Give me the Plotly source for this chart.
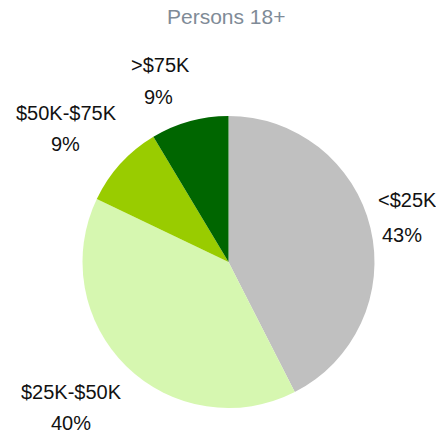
import plotly.graph_objects as go

categories = ["<$25K", "$25K-$50K", "$50K-$75K", ">$75K"]
values = [42.5, 39.6, 9.3, 8.6]
pct_labels = ["43%", "40%", "9%", "9%"]
colors = ["#c0c0c0", "#d6f7b0", "#99cc00", "#006600"]

W, H = 436, 435
# label anchor positions in pixels (name line, pct line)
label_pos = {
    "<$25K": ((407, 200), (402, 235)),
    "$25K-$50K": ((71, 392), (71, 423)),
    "$50K-$75K": ((66, 113), (65, 144)),
    ">$75K": ((160, 65), (158, 97)),
}

FONT = "Liberation Sans Narrow, Arial Narrow, Liberation Sans, Arial, sans-serif"

cx, cy, r = 228.5, 262, 146
fig = go.Figure(go.Pie(
    labels=categories,
    values=values,
    marker=dict(colors=colors, line=dict(width=0)),
    sort=False,
    direction="clockwise",
    rotation=0,
    textinfo="none",
    hoverinfo="label+percent",
    domain=dict(x=[(cx - r) / W, (cx + r) / W], y=[(H - cy - r) / H, (H - cy + r) / H]),
    showlegend=False,
))

ann = []
for cat, pct in zip(categories, pct_labels):
    (nx, ny), (px, py) = label_pos[cat]
    for txt, x, y in ((cat, nx, ny), (pct, px, py)):
        ann.append(dict(text=txt, x=x / W, y=1 - y / H, xref="paper", yref="paper",
                        xanchor="center", yanchor="middle", showarrow=False,
                        font=dict(family=FONT, size=20, color="#111111")))

ann.append(dict(text="Persons 18+", x=226 / W, y=1 - 16 / H, xref="paper", yref="paper",
                xanchor="center", yanchor="middle", showarrow=False,
                font=dict(family=FONT, size=21, color="#7f8b97")))

fig.update_layout(
    width=W, height=H,
    margin=dict(l=0, r=0, t=0, b=0),
    paper_bgcolor="white", plot_bgcolor="white",
    annotations=ann,
)
fig.write_html("out.html",
               config={"displayModeBar": False},
               post_script="document.body.style.margin='0';document.body.style.overflow='hidden';")
